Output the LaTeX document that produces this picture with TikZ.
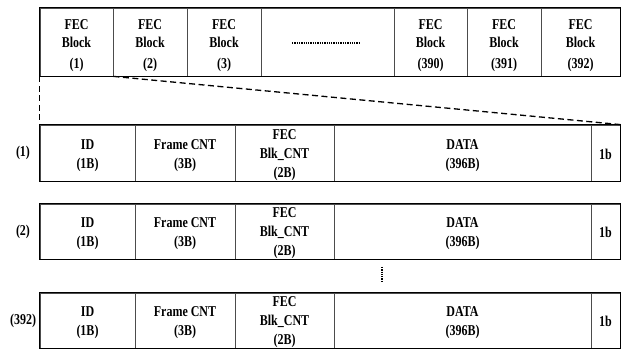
\documentclass[tikz,border=0pt]{standalone}
\usepackage{fontspec}
\setmainfont{Liberation Serif}[FakeStretch=0.8]
\begin{document}
\begin{tikzpicture}[x=1pt,y=-1pt,
  txt/.style={font=\fontsize{15}{19}\selectfont\bfseries, align=center, inner sep=0pt},
  toptxt/.style={font=\fontsize{15}{18}\selectfont\bfseries, align=center, inner sep=0pt},
  cell/.style={draw=black!70, line width=0.8pt, inner sep=0pt, rectangle},
  topcell/.style={cell, minimum height=68pt},
  outer/.style={draw=black, line width=1.3pt},
  zoomline/.style={draw=black, line width=1.3pt, dash pattern=on 6pt off 3.5pt},
  dotline/.style={draw=black, line width=1.6pt, dash pattern=on 1.3pt off 1pt},
  rowlab/.style={txt}]
\useasboundingbox (0,0) rectangle (621,352);
% top row of FEC blocks
\foreach \n/\xc/\w/\lab in {1/76.5/73/{(1)}, 2/150/74/{(2)}, 3/224/74/{(3)}, 390/430.5/73/{(390)}, 391/504/74/{(391)}, 392/580.5/79/{(392)}} {
  \node[topcell, minimum width=\w pt] (t\n) at (\xc,42) {};
  \node[toptxt] (t\n-txt) at ([yshift=-3.5pt]t\n.center) {FEC\\Block\\[3pt]\lab};
}
\node[topcell, minimum width=133pt] (td) at (327.5,42) {};
\draw[outer] (t1.north west) rectangle (t392.south east);
\coordinate (hd1) at (292,43);
\coordinate (hd2) at (359,43);
\draw[dotline] (hd1) -- (hd2);
% frame rows
\foreach \r/\yc/\h/\lab in {1/153/56/{(1)}, 2/231.5/55/{(2)}, 3/320.5/55/{(392)}} {
  \node[cell, minimum width=95pt, minimum height=\h pt] (r\r-id) at (87.5,\yc) {};
  \node[cell, minimum width=100pt, minimum height=\h pt] (r\r-fc) at (185,\yc) {};
  \node[cell, minimum width=99pt, minimum height=\h pt] (r\r-bc) at (284.5,\yc) {};
  \node[cell, minimum width=257pt, minimum height=\h pt] (r\r-da) at (462.5,\yc) {};
  \node[cell, minimum width=29pt, minimum height=\h pt] (r\r-b) at (605.5,\yc) {};
  \node[txt] (r\r-id-t) at ([yshift=-2.5pt]r\r-id.center) {ID\\(1B)};
  \node[txt] (r\r-fc-t) at ([yshift=-2.5pt]r\r-fc.center) {Frame CNT\\(3B)};
  \node[txt] (r\r-bc-t) at ([yshift=-2pt]r\r-bc.center) {FEC\\Blk\_CNT\\(2B)};
  \node[txt] (r\r-da-t) at ([yshift=-2.5pt]r\r-da.center) {DATA\\(396B)};
  \node[txt] (r\r-b-t) at ([yshift=-1pt]r\r-b.center) {1b};
  \draw[outer] (r\r-id.north west) rectangle (r\r-b.south east);
  \node[rowlab] (r\r-lab) at (23,\yc) {\lab};
}
% zoom lines
\draw[zoomline] (t1.south west) -- (r1-id.north west);
\draw[zoomline] (t1.south east) -- (r1-b.north east);
% vertical ellipsis
\coordinate (vd1) at (382,267);
\coordinate (vd2) at (382,283);
\draw[dotline] (vd1) -- (vd2);
\end{tikzpicture}
\end{document}
